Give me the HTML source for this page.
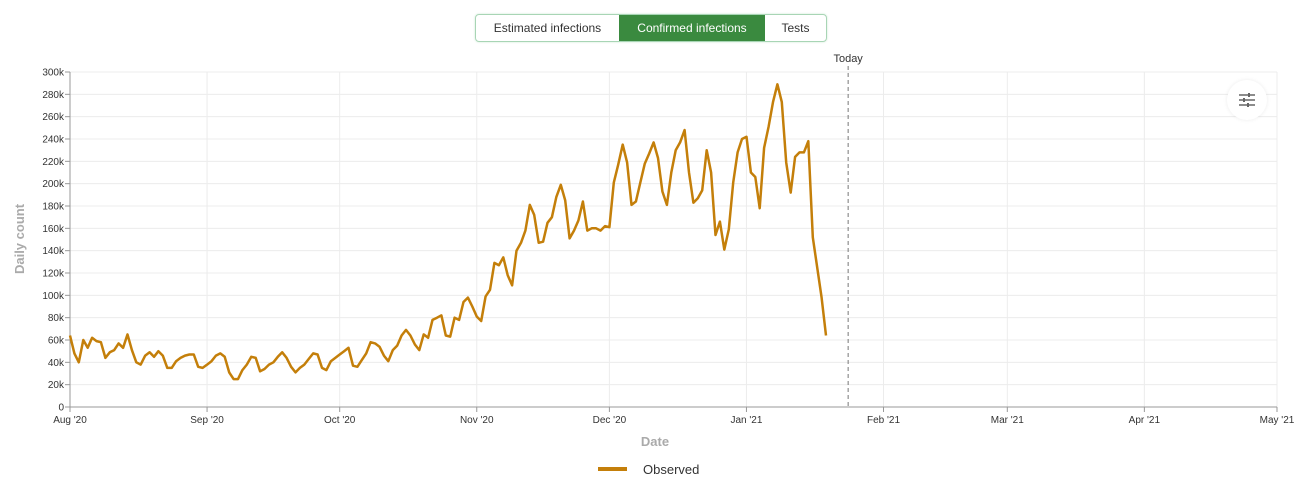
<!DOCTYPE html>
<html><head><meta charset="utf-8"><style>
body{margin:0;background:#fff;font-family:"Liberation Sans",sans-serif;}
#wrap{position:relative;width:1304px;height:481px;overflow:hidden}
.tabs{position:absolute;left:475px;top:14px;width:350px;height:26px;border:1px solid #a8d5b5;border-radius:4px;display:flex;overflow:hidden;font-size:12px;color:#333;box-shadow:0 0 2px #cde8d4}
.tabs div{display:flex;align-items:center;justify-content:center}
</style></head><body><div id="wrap">
<div class="tabs">
<div style="width:143px">Estimated infections</div>
<div style="width:146px;background:#3a8a3f;color:#fff">Confirmed infections</div>
<div style="flex:1">Tests</div>
</div>
<svg id="svg" width="1304" height="481" style="position:absolute;left:0;top:0;pointer-events:none"></svg>
<div style="position:absolute;left:1227px;top:80px;width:40px;height:40px;border-radius:50%;background:#fff;box-shadow:0 0 4px rgba(0,0,0,0.08);display:flex;align-items:center;justify-content:center">
<svg width="18" height="14"><g stroke="#666" stroke-width="1.5"><line x1="1" y1="2" x2="17" y2="2"/><line x1="1" y1="7" x2="17" y2="7"/><line x1="1" y1="12" x2="17" y2="12"/></g><g fill="#666"><rect x="10" y="0" width="2" height="4"/><rect x="5" y="5" width="2" height="4"/><rect x="9" y="10" width="2" height="4"/></g></svg>
</div>
</div>
<script>
const monthLabels=["Aug '20","Sep '20","Oct '20","Nov '20","Dec '20","Jan '21","Feb '21","Mar '21","Apr '21","May '21"];
const monthDays=[0,31,61,92,122,153,184,212,243,273];
const yTicks=[0,20,40,60,80,100,120,140,160,180,200,220,240,260,280,300];
const todayDay=176;
const observed=[64,48,40,60,53,62,59,58,44,49,51,57,53,65,51,40,38,46,49,45,50,46,35,35,41,44,46,47,47,36,35,
38,41,46,48,45,31,25,25,33,38,45,44,32,34,38,40,45,49,44,36,31,35,38,43,48,47,35,33,41,44,
47,50,53,37,36,42,48,58,57,54,46,41,51,55,64,69,64,56,51,65,62,78,80,82,64,63,80,78,94,98,90,
81,77,99,105,129,127,134,118,109,140,147,158,181,172,147,148,165,170,188,199,185,151,158,167,184,158,160,160,158,162,
161,201,217,235,219,181,184,201,218,227,237,223,193,181,210,230,237,248,210,183,187,194,230,210,154,166,141,159,201,228,240,
242,210,206,178,232,251,273,289,273,219,192,224,228,228,238,152,125,98,64];
const X0=70,X1=1277,Y0=407,Y1=72,NDAYS=273,YMAX=300;
const xs=d=>X0+d*(X1-X0)/NDAYS, ys=v=>Y0-v*(Y0-Y1)/YMAX;
const svg=document.getElementById('svg'),NS='http://www.w3.org/2000/svg';
function mk(t,a,p){const e=document.createElementNS(NS,t);for(const k in a)e.setAttribute(k,a[k]);(p||svg).appendChild(e);return e;}
yTicks.forEach(v=>{
 const g=mk('line',{x1:X0,x2:X1,y1:ys(v),y2:ys(v),stroke:'#ececec','stroke-width':1});
 
 
 mk('line',{x1:X0-5,x2:X0,y1:ys(v),y2:ys(v),stroke:'#999'});
 const t=mk('text',{x:X0-6,y:ys(v)+3.5,'text-anchor':'end','font-size':10,fill:'#333','font-family':'Liberation Sans'});
 t.textContent=v===0?'0':v+'k';
 
 
});
monthDays.forEach((d,i)=>{
 const g=mk('line',{x1:xs(d),x2:xs(d),y1:Y1,y2:Y0,stroke:'#ececec'});
 
 
 mk('line',{x1:xs(d),x2:xs(d),y1:Y0,y2:Y0+5,stroke:'#999'});
 const t=mk('text',{x:xs(d),y:Y0+16,'text-anchor':'middle','font-size':10,fill:'#333','font-family':'Liberation Sans'});
 t.textContent=monthLabels[i];
 
 
});
mk('line',{x1:X0,x2:X1,y1:Y0,y2:Y0,stroke:'#999'});
mk('line',{x1:X0,x2:X0,y1:Y1,y2:Y0,stroke:'#999'});
const tl=mk('line',{x1:xs(todayDay),x2:xs(todayDay),y1:66,y2:Y0,stroke:'#777','stroke-dasharray':'4,3'});


const tt=mk('text',{x:xs(todayDay),y:62,'text-anchor':'middle','font-size':11,fill:'#333','font-family':'Liberation Sans'});
tt.textContent='Today';


const pts=observed.map((v,i)=>xs(i).toFixed(1)+','+ys(v).toFixed(1)).join(' ');
const pl=mk('polyline',{points:pts,fill:'none',stroke:'#c47f0a','stroke-width':2.5,'stroke-linejoin':'round'});


const xt=mk('text',{x:655,y:446,'text-anchor':'middle','font-size':13,'font-weight':'bold',fill:'#aaa','font-family':'Liberation Sans'});
xt.textContent='Date';


const yt=mk('text',{x:0,y:0,transform:'translate(24,239) rotate(-90)','text-anchor':'middle','font-size':13,'font-weight':'bold',fill:'#aaa','font-family':'Liberation Sans'});
yt.textContent='Daily count';


const ll=mk('line',{x1:598,x2:627,y1:469,y2:469,stroke:'#c47f0a','stroke-width':4});


const lt=mk('text',{x:643,y:474,'font-size':13,fill:'#333','font-family':'Liberation Sans'});
lt.textContent='Observed';


</script></body></html>
